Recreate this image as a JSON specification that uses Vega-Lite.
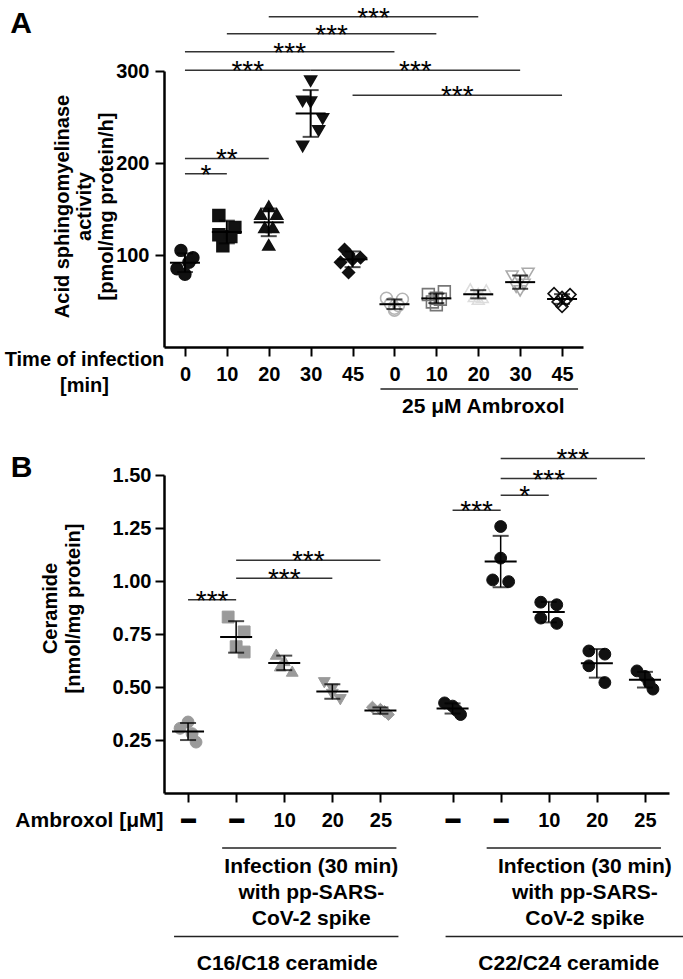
{
  "$schema": "https://vega.github.io/schema/vega-lite/v6.json",
  "padding": {"left": 4, "top": 4, "right": 0, "bottom": 0},
  "columns": 1,
  "align": "none",
  "spacing": 29,
  "resolve": {"scale": {"shape": "independent", "fill": "independent", "stroke": "independent", "x": "independent", "y": "independent"}},
  "config": {
    "font": "Liberation Sans",
    "view": {"stroke": null},
    "axis": {"domainColor": "black", "domainWidth": 2.5, "tickColor": "black", "tickWidth": 2, "tickSize": 9, "labelColor": "black", "labelFont": "Liberation Sans", "labelFontSize": 20, "labelFontWeight": "bold", "titleColor": "black", "titleFont": "Liberation Sans", "titleFontSize": 20, "titleFontWeight": "bold", "grid": false, "labelAngle": 0},
    "text": {"font": "Liberation Sans", "color": "black"}
  },
  "datasets": {
    "Agrp": [
      {"g": "I0", "pos": 0}, {"g": "I10", "pos": 1}, {"g": "I20", "pos": 2}, {"g": "I30", "pos": 3}, {"g": "I45", "pos": 4},
      {"g": "A0", "pos": 5}, {"g": "A10", "pos": 6}, {"g": "A20", "pos": 7}, {"g": "A30", "pos": 8}, {"g": "A45", "pos": 9}
    ],
    "Apts": [
      {"g": "I0", "v": 105, "j": 2}, {"g": "I0", "v": 97, "j": 5}, {"g": "I0", "v": 92, "j": 4}, {"g": "I0", "v": 85, "j": 1}, {"g": "I0", "v": 79, "j": 3},
      {"g": "I10", "v": 143, "j": 1}, {"g": "I10", "v": 130, "j": 5}, {"g": "I10", "v": 122, "j": 1}, {"g": "I10", "v": 120, "j": 4}, {"g": "I10", "v": 110, "j": 2},
      {"g": "I20", "v": 153, "j": 3}, {"g": "I20", "v": 144.5, "j": 1}, {"g": "I20", "v": 144.5, "j": 5}, {"g": "I20", "v": 130, "j": 2}, {"g": "I20", "v": 130, "j": 4}, {"g": "I20", "v": 111, "j": 3},
      {"g": "I30", "v": 289, "j": 3}, {"g": "I30", "v": 267, "j": 1}, {"g": "I30", "v": 266, "j": 3}, {"g": "I30", "v": 248, "j": 6}, {"g": "I30", "v": 235, "j": 5}, {"g": "I30", "v": 218, "j": 1},
      {"g": "I45", "v": 106, "j": 1}, {"g": "I45", "v": 101, "j": 2}, {"g": "I45", "v": 97, "j": 5}, {"g": "I45", "v": 95, "j": 3}, {"g": "I45", "v": 92, "j": 0}, {"g": "I45", "v": 81, "j": 2},
      {"g": "A0", "v": 53, "j": 1}, {"g": "A0", "v": 52, "j": 5}, {"g": "A0", "v": 47, "j": 2}, {"g": "A0", "v": 45, "j": 4}, {"g": "A0", "v": 42, "j": 3}, {"g": "A0", "v": 40, "j": 3},
      {"g": "A10", "v": 60, "j": 5}, {"g": "A10", "v": 57, "j": 1}, {"g": "A10", "v": 53, "j": 3}, {"g": "A10", "v": 52, "j": 4}, {"g": "A10", "v": 49, "j": 2}, {"g": "A10", "v": 46, "j": 3},
      {"g": "A20", "v": 63, "j": 1}, {"g": "A20", "v": 62, "j": 5}, {"g": "A20", "v": 58, "j": 3}, {"g": "A20", "v": 55, "j": 2}, {"g": "A20", "v": 54, "j": 4}, {"g": "A20", "v": 52, "j": 3},
      {"g": "A30", "v": 80, "j": 5}, {"g": "A30", "v": 77, "j": 1}, {"g": "A30", "v": 72, "j": 3}, {"g": "A30", "v": 68, "j": 4}, {"g": "A30", "v": 65, "j": 2}, {"g": "A30", "v": 61, "j": 3},
      {"g": "A45", "v": 58, "j": 1}, {"g": "A45", "v": 57, "j": 5}, {"g": "A45", "v": 54, "j": 3}, {"g": "A45", "v": 51, "j": 4}, {"g": "A45", "v": 49, "j": 2}, {"g": "A45", "v": 44, "j": 3}
    ],
    "Asig": [
      {"id": "s1", "g": "I20", "y": 359, "lab": "***"}, {"id": "s1", "g": "A20", "y": 359, "lab": "***"},
      {"id": "s2", "g": "I10", "y": 340.5, "lab": "***"}, {"id": "s2", "g": "A10", "y": 340.5, "lab": "***"},
      {"id": "s3", "g": "I0", "y": 321, "lab": "***"}, {"id": "s3", "g": "A0", "y": 321, "lab": "***"},
      {"id": "s4", "g": "I0", "y": 300.8, "lab": "***"}, {"id": "s4", "g": "I30", "y": 300.8, "lab": "***"},
      {"id": "s5", "g": "I30", "y": 300.8, "lab": "***"}, {"id": "s5", "g": "A30", "y": 300.8, "lab": "***"},
      {"id": "s6", "g": "I45", "y": 273.6, "lab": "***"}, {"id": "s6", "g": "A45", "y": 273.6, "lab": "***"},
      {"id": "s7", "g": "I0", "y": 205, "lab": "**"}, {"id": "s7", "g": "I20", "y": 205, "lab": "**"},
      {"id": "s8", "g": "I0", "y": 188.4, "lab": "*"}, {"id": "s8", "g": "I10", "y": 188.4, "lab": "*"}
    ],
    "Aann": [
      {"id": "amb", "g": "A0", "y": -45.7, "k": "line", "t": ""}, {"id": "amb", "g": "A45", "y": -45.7, "k": "line", "t": ""},
      {"id": "ambt", "g": "A0", "y": -65, "k": "text", "t": "25 μM Ambroxol"}, {"id": "ambt", "g": "A45", "y": -65, "k": "text", "t": "25 μM Ambroxol"}
    ],
    "Bgrp": [
      {"g": "b1", "pos": 0}, {"g": "b2", "pos": 1}, {"g": "b3", "pos": 2}, {"g": "b4", "pos": 3}, {"g": "b5", "pos": 4},
      {"g": "b6", "pos": 5.5}, {"g": "b7", "pos": 6.5}, {"g": "b8", "pos": 7.5}, {"g": "b9", "pos": 8.5}, {"g": "b10", "pos": 9.5}
    ],
    "Bpts": [
      {"g": "b1", "v": 0.335, "j": 3}, {"g": "b1", "v": 0.305, "j": 1}, {"g": "b1", "v": 0.28, "j": 4}, {"g": "b1", "v": 0.24, "j": 5},
      {"g": "b2", "v": 0.83, "j": 1}, {"g": "b2", "v": 0.76, "j": 5}, {"g": "b2", "v": 0.69, "j": 3}, {"g": "b2", "v": 0.665, "j": 5},
      {"g": "b3", "v": 0.655, "j": 1}, {"g": "b3", "v": 0.625, "j": 3}, {"g": "b3", "v": 0.6, "j": 2}, {"g": "b3", "v": 0.575, "j": 5},
      {"g": "b4", "v": 0.52, "j": 1}, {"g": "b4", "v": 0.49, "j": 3}, {"g": "b4", "v": 0.465, "j": 3}, {"g": "b4", "v": 0.44, "j": 5},
      {"g": "b5", "v": 0.405, "j": 1}, {"g": "b5", "v": 0.395, "j": 3}, {"g": "b5", "v": 0.385, "j": 4}, {"g": "b5", "v": 0.37, "j": 5},
      {"g": "b6", "v": 0.425, "j": 1}, {"g": "b6", "v": 0.41, "j": 3}, {"g": "b6", "v": 0.39, "j": 4}, {"g": "b6", "v": 0.37, "j": 5},
      {"g": "b7", "v": 1.257, "j": 3}, {"g": "b7", "v": 1.108, "j": 3}, {"g": "b7", "v": 1.005, "j": 1}, {"g": "b7", "v": 0.997, "j": 5},
      {"g": "b8", "v": 0.9, "j": 1}, {"g": "b8", "v": 0.888, "j": 5}, {"g": "b8", "v": 0.825, "j": 1}, {"g": "b8", "v": 0.8, "j": 5},
      {"g": "b9", "v": 0.67, "j": 1}, {"g": "b9", "v": 0.655, "j": 5}, {"g": "b9", "v": 0.6, "j": 1}, {"g": "b9", "v": 0.521, "j": 5},
      {"g": "b10", "v": 0.576, "j": 1}, {"g": "b10", "v": 0.55, "j": 3}, {"g": "b10", "v": 0.522, "j": 4}, {"g": "b10", "v": 0.49, "j": 5}
    ],
    "Bsig": [
      {"id": "t1", "g": "b1", "y": 0.911, "lab": "***"}, {"id": "t1", "g": "b2", "y": 0.911, "lab": "***"},
      {"id": "t2", "g": "b2", "y": 1.013, "lab": "***"}, {"id": "t2", "g": "b4", "y": 1.013, "lab": "***"},
      {"id": "t3", "g": "b2", "y": 1.098, "lab": "***"}, {"id": "t3", "g": "b5", "y": 1.098, "lab": "***"},
      {"id": "t4", "g": "b6", "y": 1.334, "lab": "***"}, {"id": "t4", "g": "b7", "y": 1.334, "lab": "***"},
      {"id": "t5", "g": "b7", "y": 1.405, "lab": "*"}, {"id": "t5", "g": "b8", "y": 1.405, "lab": "*"},
      {"id": "t6", "g": "b7", "y": 1.483, "lab": "***"}, {"id": "t6", "g": "b9", "y": 1.483, "lab": "***"},
      {"id": "t7", "g": "b7", "y": 1.578, "lab": "***"}, {"id": "t7", "g": "b10", "y": 1.578, "lab": "***"}
    ],
    "Bann": [
      {"id": "L1a", "g": "b2", "y": -0.26, "k": "l1", "t": ""}, {"id": "L1a", "g": "b5", "y": -0.26, "k": "l1", "t": ""},
      {"id": "L1b", "g": "b7", "y": -0.26, "k": "l1", "t": ""}, {"id": "L1b", "g": "b10", "y": -0.26, "k": "l1", "t": ""},
      {"id": "L2a", "g": "b1", "y": -0.677, "k": "l2a", "t": ""}, {"id": "L2a", "g": "b5", "y": -0.677, "k": "l2a", "t": ""},
      {"id": "L2b", "g": "b6", "y": -0.677, "k": "l2b", "t": ""}, {"id": "L2b", "g": "b10", "y": -0.677, "k": "l2b", "t": ""},
      {"id": "T1a", "g": "b2", "y": -0.295, "k": "tl", "t": "Infection (30 min)\nwith pp-SARS-\nCoV-2 spike"}, {"id": "T1a", "g": "b5", "y": -0.295, "k": "tl", "t": "Infection (30 min)\nwith pp-SARS-\nCoV-2 spike"},
      {"id": "T2a", "g": "b1", "y": -0.757, "k": "tl", "t": "C16/C18 ceramide"}, {"id": "T2a", "g": "b5", "y": -0.757, "k": "tl", "t": "C16/C18 ceramide"},
      {"id": "T1b", "g": "b7", "y": -0.295, "k": "tr1", "t": "Infection (30 min)\nwith pp-SARS-\nCoV-2 spike"}, {"id": "T1b", "g": "b10", "y": -0.295, "k": "tr1", "t": "Infection (30 min)\nwith pp-SARS-\nCoV-2 spike"},
      {"id": "T2b", "g": "b6", "y": -0.757, "k": "tr2", "t": "C22/C24 ceramide"}, {"id": "T2b", "g": "b10", "y": -0.757, "k": "tr2", "t": "C22/C24 ceramide"}
    ]
  },
  "concat": [
    {
      "width": 419,
      "height": 276,
      "title": {"text": "A", "anchor": "start", "frame": "bounds", "fontSize": 30, "fontWeight": "bold", "baseline": "top", "offset": -34, "dx": 6, "color": "black"},
      "resolve": {"axis": {"x": "independent", "y": "independent"}},
      "layer": [
        {
          "data": {"name": "Apts"},
          "transform": [{"lookup": "g", "from": {"data": {"name": "Agrp"}, "key": "g", "fields": ["pos"]}}],
          "resolve": {"axis": {"x": "independent", "y": "independent"}},
          "layer": [
            {
              "mark": {"type": "point", "size": 140, "strokeWidth": 1.6, "opacity": 1, "xOffset": {"expr": "(datum.j - 3) * 4"}},
              "encoding": {
                "x": {"field": "pos", "type": "quantitative", "scale": {"domain": [-0.5, 9.5], "nice": false, "zero": false},
                  "axis": {"values": [0, 1, 2, 3, 4, 5, 6, 7, 8, 9], "labelExpr": "['0','10','20','30','45','0','10','20','30','45'][datum.value]", "labelPadding": 8,
                    "title": ["Time of infection", "[min]"], "titleAlign": "center", "titleX": -80, "titleY": 2.5, "titleBaseline": "top", "titleLineHeight": 26}},
                "y": {"field": "v", "type": "quantitative", "scale": {"domain": [0, 300], "nice": false},
                  "axis": {"values": [100, 200, 300], "labelPadding": 6, "title": ["Acid sphingomyelinase", "activity", "[pmol/mg protein/h]"], "titleX": -102, "titleY": 135, "titleBaseline": "middle", "titleAlign": "center", "titleAngle": -90, "titleLineHeight": 22}},
                "shape": {"field": "g", "type": "nominal", "legend": null, "scale": {"domain": ["I0", "I10", "I20", "I30", "I45", "A0", "A10", "A20", "A30", "A45"], "range": ["circle", "square", "triangle-up", "triangle-down", "diamond", "circle", "square", "triangle-up", "triangle-down", "diamond"]}},
                "fill": {"field": "g", "type": "nominal", "legend": null, "scale": {"domain": ["I0", "I10", "I20", "I30", "I45", "A0", "A10", "A20", "A30", "A45"], "range": ["#111111", "#111111", "#111111", "#111111", "#111111", "transparent", "transparent", "transparent", "transparent", "transparent"]}},
                "stroke": {"field": "g", "type": "nominal", "legend": null, "scale": {"domain": ["I0", "I10", "I20", "I30", "I45", "A0", "A10", "A20", "A30", "A45"], "range": ["#111111", "#111111", "#111111", "#111111", "#111111", "#b5b5b5", "#777777", "#dddddd", "#aaaaaa", "#111111"]}}
              }
            },
            {
              "mark": {"type": "errorbar", "extent": "stdev", "orient": "vertical", "ticks": {"size": 16, "thickness": 2, "color": "black"}, "rule": {"strokeWidth": 2, "color": "black"}},
              "encoding": {
                "x": {"field": "pos", "type": "quantitative", "scale": {"domain": [-0.5, 9.5], "nice": false, "zero": false}, "axis": null},
                "y": {"field": "v", "type": "quantitative", "scale": {"domain": [0, 300], "nice": false}, "axis": null}
              }
            },
            {
              "mark": {"type": "tick", "orient": "horizontal", "size": 30, "thickness": 2, "color": "black"},
              "encoding": {
                "x": {"field": "pos", "type": "quantitative", "scale": {"domain": [-0.5, 9.5], "nice": false, "zero": false}, "axis": null},
                "y": {"aggregate": "mean", "field": "v", "type": "quantitative", "scale": {"domain": [0, 300], "nice": false}, "axis": null}
              }
            }
          ]
        },
        {
          "data": {"name": "Asig"},
          "transform": [
            {"lookup": "g", "from": {"data": {"name": "Agrp"}, "key": "g", "fields": ["pos"]}},
            {"aggregate": [{"op": "min", "field": "pos", "as": "p1"}, {"op": "max", "field": "pos", "as": "p2"}, {"op": "mean", "field": "pos", "as": "pm"}], "groupby": ["id", "y", "lab"]}
          ],
          "layer": [
            {
              "mark": {"type": "rule", "strokeWidth": 1.5, "color": "#333333"},
              "encoding": {
                "x": {"field": "p1", "type": "quantitative", "scale": {"domain": [-0.5, 9.5], "nice": false, "zero": false}, "axis": null},
                "x2": {"field": "p2"},
                "y": {"field": "y", "type": "quantitative", "scale": {"domain": [0, 300], "nice": false}, "axis": null}
              }
            },
            {
              "mark": {"type": "text", "fontSize": 28, "baseline": "alphabetic", "align": "center", "dy": 10},
              "encoding": {
                "x": {"field": "pm", "type": "quantitative", "scale": {"domain": [-0.5, 9.5], "nice": false, "zero": false}, "axis": null},
                "y": {"field": "y", "type": "quantitative", "scale": {"domain": [0, 300], "nice": false}, "axis": null},
                "text": {"field": "lab"}
              }
            }
          ]
        },
        {
          "data": {"name": "Aann"},
          "transform": [
            {"lookup": "g", "from": {"data": {"name": "Agrp"}, "key": "g", "fields": ["pos"]}},
            {"aggregate": [{"op": "min", "field": "pos", "as": "p1"}, {"op": "max", "field": "pos", "as": "p2"}, {"op": "mean", "field": "pos", "as": "pm"}], "groupby": ["id", "y", "k", "t"]}
          ],
          "layer": [
            {
              "transform": [{"filter": "datum.k == 'line'"}],
              "mark": {"type": "rule", "strokeWidth": 1.5, "color": "#222222", "xOffset": -14, "x2Offset": 16},
              "encoding": {
                "x": {"field": "p1", "type": "quantitative", "scale": {"domain": [-0.5, 9.5], "nice": false, "zero": false}, "axis": null},
                "x2": {"field": "p2"},
                "y": {"field": "y", "type": "quantitative", "scale": {"domain": [0, 300], "nice": false}, "axis": null}
              }
            },
            {
              "transform": [{"filter": "datum.k == 'text'"}],
              "mark": {"type": "text", "fontSize": 21, "fontWeight": "bold", "baseline": "middle", "align": "center", "dx": 5},
              "encoding": {
                "x": {"field": "pm", "type": "quantitative", "scale": {"domain": [-0.5, 9.5], "nice": false, "zero": false}, "axis": null},
                "y": {"field": "y", "type": "quantitative", "scale": {"domain": [0, 300], "nice": false}, "axis": null},
                "text": {"field": "t"}
              }
            }
          ]
        }
      ]
    },
    {
      "width": 505,
      "height": 318,
      "title": {"text": "B", "anchor": "start", "frame": "bounds", "fontSize": 30, "fontWeight": "bold", "baseline": "top", "offset": -37, "dx": -4, "color": "black"},
      "resolve": {"axis": {"x": "independent", "y": "independent"}},
      "layer": [
        {
          "data": {"name": "Bpts"},
          "transform": [{"lookup": "g", "from": {"data": {"name": "Bgrp"}, "key": "g", "fields": ["pos"]}}],
          "resolve": {"axis": {"x": "independent", "y": "independent"}},
          "layer": [
            {
              "mark": {"type": "point", "size": 140, "strokeWidth": 1, "opacity": 1, "xOffset": {"expr": "(datum.j - 3) * 4"}},
              "encoding": {
                "x": {"field": "pos", "type": "quantitative", "scale": {"domain": [-0.5, 10], "nice": false, "zero": false},
                  "axis": {"values": [0, 1, 2, 3, 4, 5.5, 6.5, 7.5, 8.5, 9.5], "labelExpr": "datum.value == 2 || datum.value == 7.5 ? '10' : datum.value == 3 || datum.value == 8.5 ? '20' : datum.value == 4 || datum.value == 9.5 ? '25' : '▬'", "labelPadding": 8,
                    "labelFontSize": {"condition": {"test": "datum.value < 1.5 || datum.value == 5.5 || datum.value == 6.5", "value": 15}, "value": 20},
                    "title": "Ambroxol [μM]", "titleFontSize": 21, "titleAlign": "right", "titleX": -1, "titleY": 27, "titleBaseline": "middle"}},
                "y": {"field": "v", "type": "quantitative", "scale": {"domain": [0, 1.5], "nice": false},
                  "axis": {"values": [0.25, 0.5, 0.75, 1, 1.25, 1.5], "format": ".2f", "labelPadding": 4, "title": ["Ceramide", "[nmol/mg protein]"], "titleX": -114, "titleY": 133, "titleBaseline": "middle", "titleAlign": "center", "titleAngle": -90, "titleLineHeight": 23}},
                "shape": {"field": "g", "type": "nominal", "legend": null, "scale": {"domain": ["b1", "b2", "b3", "b4", "b5", "b6", "b7", "b8", "b9", "b10"], "range": ["circle", "square", "triangle-up", "triangle-down", "diamond", "circle", "circle", "circle", "circle", "circle"]}},
                "fill": {"field": "g", "type": "nominal", "legend": null, "scale": {"domain": ["b1", "b2", "b3", "b4", "b5", "b6", "b7", "b8", "b9", "b10"], "range": ["#9a9a9a", "#9a9a9a", "#9a9a9a", "#9a9a9a", "#9a9a9a", "#111111", "#111111", "#111111", "#111111", "#111111"]}},
                "stroke": {"field": "g", "type": "nominal", "legend": null, "scale": {"domain": ["b1", "b2", "b3", "b4", "b5", "b6", "b7", "b8", "b9", "b10"], "range": ["#9a9a9a", "#9a9a9a", "#9a9a9a", "#9a9a9a", "#9a9a9a", "#111111", "#111111", "#111111", "#111111", "#111111"]}}
              }
            },
            {
              "mark": {"type": "errorbar", "extent": "stdev", "orient": "vertical", "ticks": {"size": 16, "thickness": 2, "color": "black"}, "rule": {"strokeWidth": 1.5, "color": "black"}},
              "encoding": {
                "x": {"field": "pos", "type": "quantitative", "scale": {"domain": [-0.5, 10], "nice": false, "zero": false}, "axis": null},
                "y": {"field": "v", "type": "quantitative", "scale": {"domain": [0, 1.5], "nice": false}, "axis": null}
              }
            },
            {
              "mark": {"type": "tick", "orient": "horizontal", "size": 32, "thickness": 2, "color": "black"},
              "encoding": {
                "x": {"field": "pos", "type": "quantitative", "scale": {"domain": [-0.5, 10], "nice": false, "zero": false}, "axis": null},
                "y": {"aggregate": "mean", "field": "v", "type": "quantitative", "scale": {"domain": [0, 1.5], "nice": false}, "axis": null}
              }
            }
          ]
        },
        {
          "data": {"name": "Bsig"},
          "transform": [
            {"lookup": "g", "from": {"data": {"name": "Bgrp"}, "key": "g", "fields": ["pos"]}},
            {"aggregate": [{"op": "min", "field": "pos", "as": "p1"}, {"op": "max", "field": "pos", "as": "p2"}, {"op": "mean", "field": "pos", "as": "pm"}], "groupby": ["id", "y", "lab"]}
          ],
          "layer": [
            {
              "mark": {"type": "rule", "strokeWidth": 1.5, "color": "#333333"},
              "encoding": {
                "x": {"field": "p1", "type": "quantitative", "scale": {"domain": [-0.5, 10], "nice": false, "zero": false}, "axis": null},
                "x2": {"field": "p2"},
                "y": {"field": "y", "type": "quantitative", "scale": {"domain": [0, 1.5], "nice": false}, "axis": null}
              }
            },
            {
              "mark": {"type": "text", "fontSize": 28, "baseline": "alphabetic", "align": "center", "dy": 10},
              "encoding": {
                "x": {"field": "pm", "type": "quantitative", "scale": {"domain": [-0.5, 10], "nice": false, "zero": false}, "axis": null},
                "y": {"field": "y", "type": "quantitative", "scale": {"domain": [0, 1.5], "nice": false}, "axis": null},
                "text": {"field": "lab"}
              }
            }
          ]
        },
        {
          "data": {"name": "Bann"},
          "transform": [
            {"lookup": "g", "from": {"data": {"name": "Bgrp"}, "key": "g", "fields": ["pos"]}},
            {"aggregate": [{"op": "min", "field": "pos", "as": "p1"}, {"op": "max", "field": "pos", "as": "p2"}, {"op": "mean", "field": "pos", "as": "pm"}], "groupby": ["id", "y", "k", "t"]}
          ],
          "layer": [
            {
              "transform": [{"filter": "datum.k == 'l1'"}],
              "mark": {"type": "rule", "strokeWidth": 1.5, "color": "#222222", "xOffset": -14, "x2Offset": 16},
              "encoding": {
                "x": {"field": "p1", "type": "quantitative", "scale": {"domain": [-0.5, 10], "nice": false, "zero": false}, "axis": null},
                "x2": {"field": "p2"},
                "y": {"field": "y", "type": "quantitative", "scale": {"domain": [0, 1.5], "nice": false}, "axis": null}
              }
            },
            {
              "transform": [{"filter": "datum.k == 'l2a'"}],
              "mark": {"type": "rule", "strokeWidth": 1.5, "color": "#222222", "xOffset": -14, "x2Offset": 18},
              "encoding": {
                "x": {"field": "p1", "type": "quantitative", "scale": {"domain": [-0.5, 10], "nice": false, "zero": false}, "axis": null},
                "x2": {"field": "p2"},
                "y": {"field": "y", "type": "quantitative", "scale": {"domain": [0, 1.5], "nice": false}, "axis": null}
              }
            },
            {
              "transform": [{"filter": "datum.k == 'l2b'"}],
              "mark": {"type": "rule", "strokeWidth": 1.5, "color": "#222222", "xOffset": -7, "x2Offset": 43},
              "encoding": {
                "x": {"field": "p1", "type": "quantitative", "scale": {"domain": [-0.5, 10], "nice": false, "zero": false}, "axis": null},
                "x2": {"field": "p2"},
                "y": {"field": "y", "type": "quantitative", "scale": {"domain": [0, 1.5], "nice": false}, "axis": null}
              }
            },
            {
              "transform": [{"filter": "datum.k == 'tl'"}],
              "mark": {"type": "text", "fontSize": 21, "fontWeight": "bold", "baseline": "top", "align": "center", "lineBreak": "\n", "lineHeight": 26, "dx": 3},
              "encoding": {
                "x": {"field": "pm", "type": "quantitative", "scale": {"domain": [-0.5, 10], "nice": false, "zero": false}, "axis": null},
                "y": {"field": "y", "type": "quantitative", "scale": {"domain": [0, 1.5], "nice": false}, "axis": null},
                "text": {"field": "t"}
              }
            },
            {
              "transform": [{"filter": "datum.k == 'tr1'"}],
              "mark": {"type": "text", "fontSize": 21, "fontWeight": "bold", "baseline": "top", "align": "center", "lineBreak": "\n", "lineHeight": 26, "dx": 12},
              "encoding": {
                "x": {"field": "pm", "type": "quantitative", "scale": {"domain": [-0.5, 10], "nice": false, "zero": false}, "axis": null},
                "y": {"field": "y", "type": "quantitative", "scale": {"domain": [0, 1.5], "nice": false}, "axis": null},
                "text": {"field": "t"}
              }
            },
            {
              "transform": [{"filter": "datum.k == 'tr2'"}],
              "mark": {"type": "text", "fontSize": 21, "fontWeight": "bold", "baseline": "top", "align": "center", "lineBreak": "\n", "lineHeight": 26, "dx": 20},
              "encoding": {
                "x": {"field": "pm", "type": "quantitative", "scale": {"domain": [-0.5, 10], "nice": false, "zero": false}, "axis": null},
                "y": {"field": "y", "type": "quantitative", "scale": {"domain": [0, 1.5], "nice": false}, "axis": null},
                "text": {"field": "t"}
              }
            }
          ]
        }
      ]
    }
  ]
}
